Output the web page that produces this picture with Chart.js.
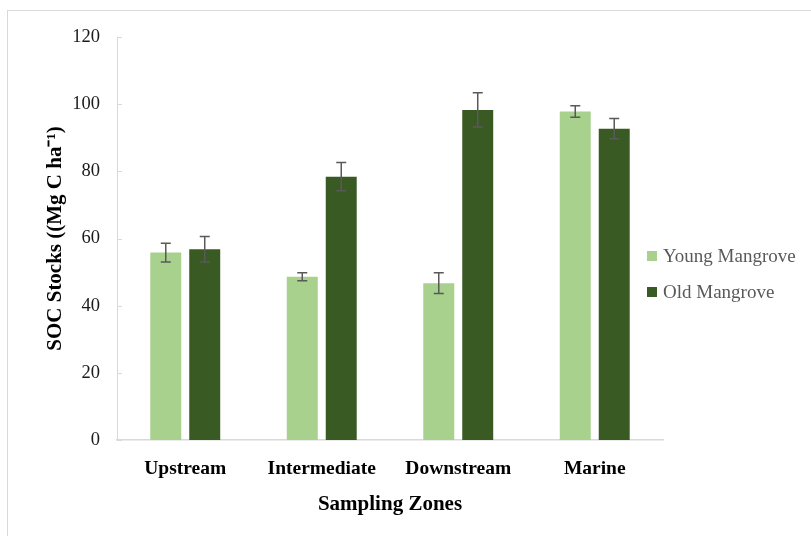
<!DOCTYPE html>
<html>
<head>
<meta charset="utf-8">
<script src="https://cdn.jsdelivr.net/npm/chart.js@4/dist/chart.umd.min.js"></script>
<style>
  html, body { margin: 0; padding: 0; background: #fff; }
  #wrap { position: relative; width: 811px; height: 536px; overflow: hidden; }
  #frame { position: absolute; left: 7px; top: 10px; width: 900px; height: 600px; border: 1px solid #d9d9d9; pointer-events: none; }
  canvas { position: absolute; left: 0; top: 0; }
  #legend { position: absolute; left: 647px; top: 238px; font-family: "Liberation Serif", "Times New Roman", serif; font-size: 19px; color: #595959; }
  .item { display: flex; align-items: center; height: 36px; white-space: nowrap; }
  .box { width: 10px; height: 10px; margin-right: 6px; }
</style>
</head>
<body>
<div id="wrap">
  <div id="frame"></div>
  <canvas id="c" width="811" height="536"></canvas>
  <div id="legend"></div>
</div>
<script>
const categories = ["Upstream", "Intermediate", "Downstream", "Marine"];
const seriesNames = ["Young Mangrove", "Old Mangrove"];
const youngValues = [55.8, 48.6, 46.7, 97.8];
const youngErrors = [2.8, 1.2, 3.1, 1.7];
const oldValues = [56.8, 78.4, 98.3, 92.7];
const oldErrors = [3.8, 4.2, 5.1, 3.0];
const yTicks = [0, 20, 40, 60, 80, 100, 120];

const colors = ["#A9D18E", "#3A5A24"];
const errs = [youngErrors, oldErrors];

const errorBarPlugin = {
  id: 'errorBars',
  afterDatasetsDraw(chart) {
    const ctx = chart.ctx;
    const y = chart.scales.y;
    ctx.save();
    ctx.strokeStyle = '#595959';
    ctx.lineWidth = 1.5;
    chart.data.datasets.forEach((ds, di) => {
      const meta = chart.getDatasetMeta(di);
      meta.data.forEach((bar, i) => {
        const v = ds.data[i], e = errs[di][i];
        const yt = y.getPixelForValue(v + e), yb = y.getPixelForValue(v - e);
        const x = bar.x, cap = 5;
        ctx.beginPath();
        ctx.moveTo(x, yt); ctx.lineTo(x, yb);
        ctx.moveTo(x - cap, yt); ctx.lineTo(x + cap, yt);
        ctx.moveTo(x - cap, yb); ctx.lineTo(x + cap, yb);
        ctx.stroke();
      });
    });
    const left = chart.chartArea.left;
    ctx.strokeStyle = '#d9d9d9';
    ctx.lineWidth = 1;
    y.ticks.forEach(t => {
      const py = Math.round(y.getPixelForValue(t.value)) + 0.5;
      ctx.beginPath();
      ctx.moveTo(left, py); ctx.lineTo(left + 5, py);
      ctx.stroke();
    });
    ctx.restore();
  }
};

new Chart(document.getElementById('c'), {
  type: 'bar',
  data: {
    labels: categories,
    datasets: [
      { label: seriesNames[0], data: youngValues, backgroundColor: colors[0], categoryPercentage: 0.571, barPercentage: 0.795 },
      { label: seriesNames[1], data: oldValues, backgroundColor: colors[1], categoryPercentage: 0.571, barPercentage: 0.795 }
    ]
  },
  options: {
    responsive: false,
    animation: false,
    layout: { padding: { left: 0, right: 148, top: 37, bottom: 16 } },
    plugins: { legend: { display: false }, tooltip: { enabled: false } },
    scales: {
      x: {
        grid: { display: false, drawTicks: false },
        border: { display: true, color: '#d9d9d9', width: 1.5 },
        ticks: { color: '#000', padding: 17, font: { family: 'Liberation Serif', size: 19.5, weight: 'bold' } },
        title: { display: true, text: 'Sampling Zones', color: '#000', padding: { top: 0, bottom: 3 }, font: { family: 'Liberation Serif', size: 21, weight: 'bold' } },
        afterFit(s) { s.height = 80; }
      },
      y: {
        min: 0, max: 120,
        afterBuildTicks(s) { s.ticks = yTicks.map(v => ({ value: v })); },
        grid: { display: false, drawTicks: false },
        border: { display: true, color: '#d9d9d9', width: 1 },
        ticks: { color: '#1a1a1a', padding: 17, font: { family: 'Liberation Serif', size: 18.5 } },
        title: { display: true, text: 'SOC Stocks ((Mg C ha\u207B\u00B9)', color: '#000', padding: { top: 43, bottom: 0 }, font: { family: 'Liberation Serif', size: 21, weight: 'bold' } },
        afterFit(s) { s.width = 117; }
      }
    }
  },
  plugins: [errorBarPlugin]
});

const legend = document.getElementById('legend');
seriesNames.forEach((n, i) => {
  const row = document.createElement('div');
  row.className = 'item';
  const b = document.createElement('span');
  b.className = 'box';
  b.style.background = colors[i];
  const t = document.createElement('span');
  t.textContent = n;
  row.appendChild(b); row.appendChild(t);
  legend.appendChild(row);
});
</script>
</body>
</html>
